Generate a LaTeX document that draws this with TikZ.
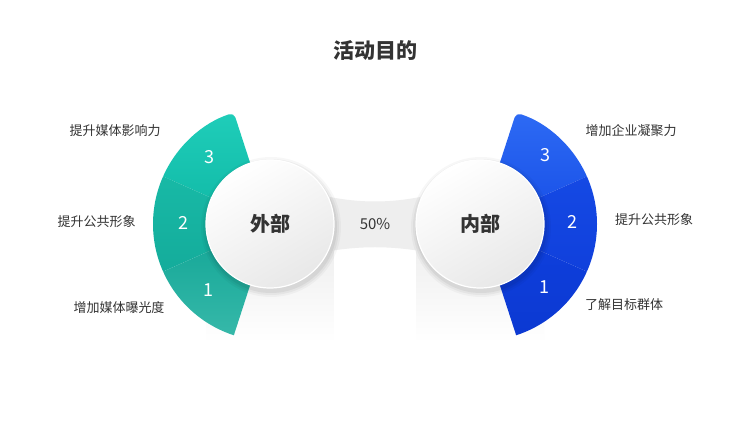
\documentclass[tikz,border=0pt]{standalone}
\usepackage{fontspec}
\setmainfont{Noto Sans CJK SC}
\definecolor{txt}{HTML}{333333}
\definecolor{tA}{HTML}{1FCDB9}
\definecolor{tAb}{HTML}{12BBA8}
\definecolor{tB}{HTML}{18B9A6}
\definecolor{tBb}{HTML}{14AC9B}
\definecolor{tC}{HTML}{16A898}
\definecolor{tCb}{HTML}{36B8A9}
\definecolor{bA}{HTML}{2D6AF4}
\definecolor{bAb}{HTML}{1A52E8}
\definecolor{bB}{HTML}{1549E4}
\definecolor{bBb}{HTML}{1040DC}
\definecolor{bC}{HTML}{0E3FDC}
\definecolor{bCb}{HTML}{0C39D2}
\definecolor{band}{HTML}{EEEEEE}
\tikzset{
  lbl/.style={text=txt, font=\fontsize{13}{15}\selectfont, inner sep=0pt},
  num/.style={text=white, font=\fontsize{18}{20}\selectfont, inner sep=0pt},
  disc/.style={circle, minimum size=128pt, inner sep=0pt, draw=white, line width=1.2pt,
    top color=white, bottom color=black!9, shading angle=30,
    text=txt, font=\fontsize{20}{22}\selectfont\bfseries},
}
\begin{document}
\begin{tikzpicture}[x=1pt,y=1pt]
\useasboundingbox (0,0) rectangle (750,422);
\fill[white] (0,0) rectangle (750,422);

% shadow columns below the discs
\shade[top color=black!8, bottom color=white] (206,198) rectangle (334,80);
\shade[top color=black!8, bottom color=white] (416,198) rectangle (544,80);
\fill[white] (334,172) rectangle (416,80);

% middle band
\fill[band] (330,225) .. controls (360,219) and (390,219) .. (420,225)
  -- (420,171) .. controls (390,176) and (360,176) .. (330,171) -- cycle;

% left ring
\begin{scope}[shift={(270,198)}]
  \shade[top color=tA, bottom color=tAb, rounded corners=5pt] (156:40pt) -- (108:40pt) -- (108:117pt) [sharp corners] arc[start angle=108, end angle=156, radius=117pt] -- cycle;
  \shade[top color=tB, bottom color=tBb] (156:40pt) -- (156:117pt) arc[start angle=156, end angle=204, radius=117pt] -- (204:40pt) -- cycle;
  \shade[top color=tC, bottom color=tCb] (204:40pt) -- (204:117pt) arc[start angle=204, end angle=252, radius=117pt] [rounded corners=5pt] -- (252:40pt) -- (204:40pt) -- cycle;
\end{scope}
% right ring
\begin{scope}[shift={(480,198)}]
  \shade[top color=bA, bottom color=bAb, rounded corners=5pt] (24:40pt) -- (72:40pt) -- (72:117pt) [sharp corners] arc[start angle=72, end angle=24, radius=117pt] -- cycle;
  \shade[top color=bB, bottom color=bBb] (24:40pt) -- (24:117pt) arc[start angle=24, end angle=-24, radius=117pt] -- (-24:40pt) -- cycle;
  \shade[top color=bC, bottom color=bCb] (-24:40pt) -- (-24:117pt) arc[start angle=-24, end angle=-72, radius=117pt] [rounded corners=5pt] -- (-72:40pt) -- (-24:40pt) -- cycle;
\end{scope}

% soft shadows of discs
\foreach \r/\o in {70/0.03,68/0.04,66/0.05} {
  \fill[black, opacity=\o] (271,195) circle (\r pt);
  \fill[black, opacity=\o] (481,195) circle (\r pt);
}

% discs
\node[disc] (outer) at (270,198) {外部};
\node[disc] (inner) at (480,198) {内部};
\node[text=txt, font=\fontsize{15}{17}\selectfont, inner sep=0pt] (pct) at (375,198) {50\%};

% title
\node[text=txt, font=\fontsize{21}{23}\selectfont\bfseries, inner sep=0pt] (title) at (375,372) {活动目的};

% numbers
\node[num] (l3) at (209,265) {3};
\node[num] (l2) at (183,199) {2};
\node[num] (l1) at (208,132) {1};
\node[num] (r3) at (545,267) {3};
\node[num] (r2) at (572,200) {2};
\node[num] (r1) at (544,135) {1};

% labels
\node[lbl] (la) at (115,291) {提升媒体影响力};
\node[lbl] (lb) at (96.5,200) {提升公共形象};
\node[lbl] (lc) at (119,114) {增加媒体曝光度};
\node[lbl] (ra) at (631,291) {增加企业凝聚力};
\node[lbl] (rb) at (654,202) {提升公共形象};
\node[lbl] (rc) at (624,117) {了解目标群体};
\end{tikzpicture}
\end{document}
